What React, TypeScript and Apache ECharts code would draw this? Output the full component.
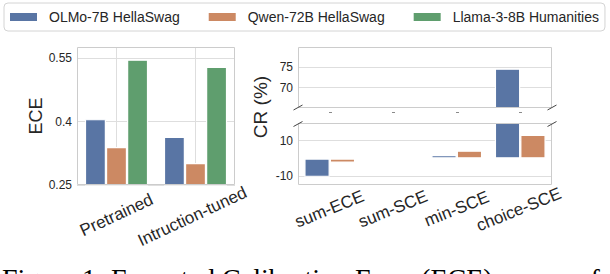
import React, { useEffect, useRef } from 'react';
import * as echarts from 'echarts';

// ---------- data ----------
const seriesNames = ['OLMo-7B HellaSwag', 'Qwen-72B HellaSwag', 'Llama-3-8B Humanities'];
const seriesColors = ['#5975A4', '#CC8963', '#5F9E6E'];

const eceCategories = ['Pretrained', 'Intruction-tuned'];
const eceOlmo = [0.406, 0.364];
const eceQwen = [0.34, 0.302];
const eceLlama = [0.547, 0.53];
const eceTicks = [0.25, 0.4, 0.55];

const crCategories = ['sum-ECE', 'sum-SCE', 'min-SCE', 'choice-SCE'];
const crOlmo: (number | null)[] = [-10.4, null, 1.9, 74.7];
const crQwen: (number | null)[] = [-2.4, null, 4.4, 13.3];
const crTopTicks = [70, 75];
const crBottomTicks = [-10, 10];

const eceLabel = 'ECE';
const crLabel = 'CR (%)';
const captionText = 'Figure 1: Expected Calibration Error (ECE) scores of';

// ---------- style ----------
const FONT = 'Liberation Sans, Arial, Helvetica, sans-serif';
const TXT = '#262626';
const GRID_LINE = '#dedede';
const FRAME = '#cccccc';

const LEFT = { left: 77, top: 47, width: 158, height: 138 };
const RTOP = { left: 298, top: 47, width: 254, height: 61 };
const RBOT = { left: 298, top: 123, width: 254, height: 62 };

const X_FONT = 17;
const LEFT_ROT = 25;
const RIGHT_ROT = 22;

function measure(text: string, font: string): number {
  const ctx = document.createElement('canvas').getContext('2d');
  if (!ctx) return text.length * 8;
  ctx.font = font;
  return ctx.measureText(text).width;
}

// matplotlib-like rotated labels: centred on the tick, bbox top at a fixed pad
function labelItems(cats: string[], fontSize: number, deg: number) {
  const th = (deg * Math.PI) / 180;
  const widths = cats.map((c) => measure(c, `${fontSize}px ${FONT}`));
  const minW = Math.min(...widths);
  return cats.map((c, i) => {
    const d = ((widths[i] - minW) * Math.sin(th)) / 2;
    return {
      value: c,
      textStyle: {
        align: 'center',
        verticalAlign: 'middle',
        padding: [2 * d * Math.cos(th), 2 * d * Math.sin(th), 0, 0],
      },
    };
  });
}

function valueAxis(gridIndex: number, min: number, max: number, ticks: number[], extra: any = {}) {
  return {
    type: 'value',
    gridIndex,
    min,
    max,
    axisLine: { show: false },
    axisTick: { show: false, customValues: ticks },
    axisLabel: {
      customValues: ticks,
      fontSize: 12,
      color: TXT,
      fontFamily: FONT,
      margin: 5,
      formatter: (v: number) => String(v),
    },
    splitLine: { show: true, lineStyle: { color: GRID_LINE, width: 1 } },
    ...extra,
  };
}

function bar(name: string, color: string, data: (number | null)[], xi: number, yi: number) {
  return {
    type: 'bar',
    name,
    xAxisIndex: xi,
    yAxisIndex: yi,
    data,
    barGap: '0%',
    barCategoryGap: '20%',
    clip: true,
    itemStyle: { color, borderColor: '#ffffff', borderWidth: 1.2 },
  };
}

function frame(g: { left: number; top: number; width: number; height: number }) {
  return {
    type: 'rect',
    shape: { x: g.left + 0.5, y: g.top + 0.5, width: g.width - 1, height: g.height - 1 },
    style: { fill: 'none', stroke: FRAME, lineWidth: 1 },
    silent: true,
    z: 50,
  };
}

export default function App() {
  const ref = useRef<HTMLDivElement>(null);

  useEffect(() => {
    if (!ref.current) return;
    const chart = echarts.init(ref.current, undefined, { renderer: 'svg' });

    const slash = (cx: number, cy: number) => ({
      type: 'line',
      shape: { x1: cx - 4.5, y1: cy + 2.5, x2: cx + 4.5, y2: cy - 2.5 },
      style: { stroke: '#444444', lineWidth: 1 },
      silent: true,
      z: 100,
    });
    const rTopBottom = RTOP.top + RTOP.height;
    const eceCenters = eceCategories.map((_, i) => i);

    const xLabelBase = {
      interval: 0,
      fontSize: X_FONT,
      color: TXT,
      fontFamily: FONT,
    };

    const option: any = {
      animation: false,
      backgroundColor: '#ffffff',
      textStyle: { fontFamily: FONT },
      legend: {
        data: seriesNames,
        orient: 'horizontal',
        left: 4,
        top: 3,
        width: 640,
        padding: [7, 6, 7, 6],
        itemWidth: 27,
        itemHeight: 8,
        itemGap: 29,
        icon: 'rect',
        borderColor: '#d4d4d4',
        borderWidth: 1,
        borderRadius: 4,
        selectedMode: false,
        itemStyle: { borderWidth: 0 },
        textStyle: { fontFamily: FONT, fontSize: 14, color: TXT, padding: [0, 0, 0, 7], lineHeight: 14 },
      },
      grid: [{ ...LEFT }, { ...RTOP }, { ...RBOT }],
      xAxis: [
        {
          type: 'category',
          gridIndex: 0,
          data: labelItems(eceCategories, X_FONT, LEFT_ROT),
          axisLine: { show: false },
          axisTick: { show: false },
          axisLabel: { ...xLabelBase, rotate: LEFT_ROT, margin: 30 },
          splitLine: { show: false },
        },
        {
          type: 'category',
          gridIndex: 1,
          data: crCategories,
          axisLine: { show: false },
          axisLabel: { show: false },
          axisTick: {
            show: true,
            interval: 0,
            alignWithLabel: true,
            length: 5,
            lineStyle: { color: '#8a8a8a', width: 3, type: [0, 4, 1, 0] },
          },
          splitLine: { show: false },
        },
        {
          type: 'category',
          gridIndex: 2,
          data: labelItems(crCategories, X_FONT, RIGHT_ROT),
          axisLine: { show: false },
          axisTick: { show: false },
          axisLabel: { ...xLabelBase, rotate: RIGHT_ROT, margin: 24 },
          splitLine: { show: false },
        },
        {
          // vertical grid lines at the category centres of the left panel
          type: 'value',
          gridIndex: 0,
          min: -0.5,
          max: eceCategories.length - 0.5,
          axisLine: { show: false },
          axisLabel: { show: false },
          axisTick: { show: false, customValues: eceCenters },
          splitLine: { show: true, lineStyle: { color: GRID_LINE, width: 1 } },
        },
      ],
      yAxis: [
        valueAxis(0, 0.25, 0.577, eceTicks, {
          name: eceLabel,
          nameLocation: 'middle',
          nameGap: 29,
          nameTextStyle: { fontSize: 18, color: TXT, fontFamily: FONT },
        }),
        valueAxis(1, 65, 80, crTopTicks),
        valueAxis(2, -15, 20, crBottomTicks),
      ],
      series: [
        bar(seriesNames[0], seriesColors[0], eceOlmo, 0, 0),
        bar(seriesNames[1], seriesColors[1], eceQwen, 0, 0),
        bar(seriesNames[2], seriesColors[2], eceLlama, 0, 0),
        bar(seriesNames[0], seriesColors[0], crOlmo, 1, 1),
        bar(seriesNames[1], seriesColors[1], crQwen, 1, 1),
        bar(seriesNames[0], seriesColors[0], crOlmo, 2, 2),
        bar(seriesNames[1], seriesColors[1], crQwen, 2, 2),
      ],
      graphic: [
        frame(LEFT),
        frame(RTOP),
        frame(RBOT),
        slash(RTOP.left, rTopBottom - 0.5),
        slash(RTOP.left + RTOP.width, rTopBottom - 0.5),
        slash(RBOT.left, RBOT.top + 1),
        slash(RBOT.left + RBOT.width, RBOT.top + 1),
        {
          type: 'text',
          x: 260,
          y: 107,
          rotation: Math.PI / 2,
          silent: true,
          style: {
            text: crLabel,
            align: 'center',
            verticalAlign: 'middle',
            fontSize: 19,
            fontFamily: FONT,
            fill: TXT,
          },
        },
        {
          type: 'text',
          x: 2,
          y: 278,
          silent: true,
          style: {
            text: captionText,
            align: 'left',
            verticalAlign: 'middle',
            fontSize: 28,
            fontFamily: 'Liberation Serif, Times New Roman, serif',
            fill: '#000000',
          },
        },
      ],
    };

    chart.setOption(option);
    return () => chart.dispose();
  }, []);

  return (
    <div
      ref={ref}
      style={{ position: 'absolute', left: 0, top: 0, width: 610, height: 274 }}
    />
  );
}
